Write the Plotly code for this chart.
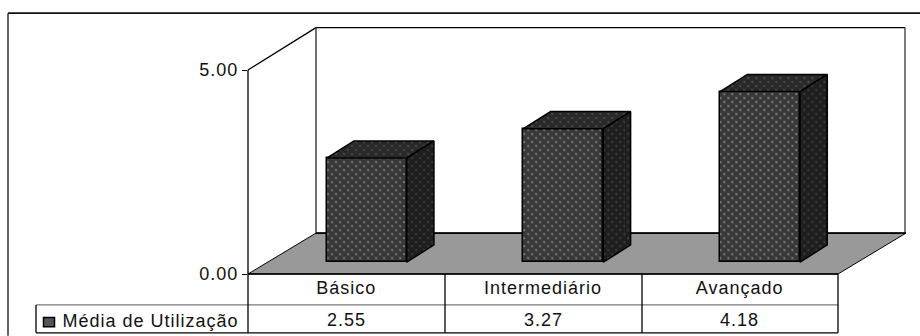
import plotly.graph_objects as go

# Chart data
categories = ["Básico", "Intermediário", "Avançado"]
series_name = "Média de Utilização"
values = [2.55, 3.27, 4.18]
value_ticks = [0, 5]

# Page geometry in pixels
W, H = 920, 336
PLOT_L, PLOT_R, PLOT_T, PLOT_B = 248, 838, 69.5, 274
DEPTH_X, DEPTH_Y = 68, 41  # oblique offset of the full floor depth
BAR_FRONT, BAR_BACK = 0.30, 0.70  # bar faces, as fractions of the depth
BAR_WIDTH = 80 / 196.67
UNIT_X = (PLOT_R - PLOT_L) / 3
UNIT_Y = (PLOT_B - PLOT_T) / 5
BASE = 0.29 * DEPTH_Y / UNIT_Y  # bars stand on the floor, set back from the front edge
TOP_DEPTH = 0.42 * DEPTH_Y / UNIT_Y
EDGE = 1.5
WALL = 1.3


def px(x):
    return (x - PLOT_L) / (PLOT_R - PLOT_L)


def py(y):
    return (PLOT_B - y) / (PLOT_B - PLOT_T)


def face_trace(corners, bg, fg):
    xs, ys = zip(*corners)
    return go.Scatter(
        x=list(xs) + [xs[0]], y=list(ys) + [ys[0]], mode="lines", fill="toself",
        fillcolor=bg, line=dict(color="#000000", width=EDGE),
        fillpattern=dict(shape=".", bgcolor=bg, fgcolor=fg, size=5.66, solidity=0.15),
        hoverinfo="skip", showlegend=False,
    )


def line(x0, y0, x1, y1, color="#000000", width=WALL):
    return dict(type="line", xref="paper", yref="paper", layer="below",
                x0=px(x0), y0=py(y0), x1=px(x1), y1=py(y1),
                line=dict(color=color, width=width))


fig = go.Figure()

# Front faces
front_shift = BAR_FRONT * DEPTH_X / UNIT_X
fig.add_trace(go.Bar(
    x=list(range(len(values))), y=values, base=BASE,
    width=BAR_WIDTH, offset=-BAR_WIDTH / 2 + front_shift,
    name=series_name, showlegend=False, hoverinfo="skip",
    marker=dict(color="#383838", line=dict(color="#000000", width=EDGE),
                pattern=dict(shape=".", bgcolor="#383838", fgcolor="#b4b4b4",
                             size=5.66, solidity=0.15)),
))

# Top and side faces, offset along the depth direction
back_dx = (BAR_BACK - BAR_FRONT) * DEPTH_X / UNIT_X
for i, v in enumerate(values):
    left = i - BAR_WIDTH / 2 + front_shift
    right = left + BAR_WIDTH
    top = BASE + v
    fig.add_trace(face_trace([
        (left, top), (left + back_dx, top + TOP_DEPTH),
        (right + back_dx, top + TOP_DEPTH), (right, top),
    ], "#292929", "#707070"))
    fig.add_trace(face_trace([
        (right, top), (right + back_dx, top + TOP_DEPTH),
        (right + back_dx, BASE + TOP_DEPTH), (right, BASE),
    ], "#1e1e1e", "#585858"))

shapes = [
    # Floor
    dict(type="path", xref="paper", yref="paper", layer="below",
         path=(f"M {px(PLOT_L)} {py(PLOT_B)} L {px(PLOT_L + DEPTH_X)} {py(PLOT_B - DEPTH_Y)} "
               f"L {px(PLOT_R + DEPTH_X)} {py(PLOT_B - DEPTH_Y)} L {px(PLOT_R)} {py(PLOT_B)} Z"),
         fillcolor="#999999", line=dict(color="#000000", width=1)),
    # Walls
    line(PLOT_L, PLOT_T, PLOT_L, PLOT_B),
    line(PLOT_L, PLOT_T, PLOT_L + DEPTH_X, 27),
    line(PLOT_L + DEPTH_X, 27, PLOT_R + DEPTH_X - 1, 27),
    line(PLOT_L + DEPTH_X, 27, PLOT_L + DEPTH_X, PLOT_B - DEPTH_Y, "#333333", 1.4),
    line(PLOT_R + DEPTH_X - 1, 27, PLOT_R + DEPTH_X - 1, PLOT_B - DEPTH_Y, "#444444", 1.4),
    line(PLOT_L + DEPTH_X, PLOT_B - DEPTH_Y, PLOT_R + DEPTH_X, PLOT_B - DEPTH_Y, "#000000", 1.6),
    line(PLOT_L, PLOT_B, PLOT_R, PLOT_B, "#000000", 1.6),
    # Outer frame
    line(8, 12.5, W, 12.5, "#111111", 1.6),
    line(8, 12.5, 8, H, "#222222", 1.4),
    # Data table
    line(36, 305, PLOT_R, 305, "#777777", 1.4),
    line(36, 333, PLOT_R, 333),
    line(36, 305, 36, 333),
    line(PLOT_L, PLOT_B, PLOT_L, 333),
    line(445, PLOT_B, 445, 333),
    line(642, PLOT_B, 642, 333),
    line(PLOT_R, PLOT_B, PLOT_R, 333),
    # Legend key
    dict(type="rect", xref="paper", yref="paper", layer="below",
         x0=px(43.5), x1=px(54.5), y0=py(327), y1=py(317.5),
         fillcolor="#555555", line=dict(color="#000000", width=1.5)),
]

annotations = [
    dict(xref="paper", yref="paper", x=px(150.5), y=py(321), text=series_name,
         showarrow=False, xanchor="center", yanchor="middle"),
]
for i, v in enumerate(values):
    annotations.append(dict(xref="x", yref="paper", x=i, y=py(320), text=f"{v:.2f}",
                            showarrow=False, xanchor="center", yanchor="middle"))

FONT = dict(family="Liberation Sans, Arial, sans-serif", size=18, color="#111111")

fig.update_layout(
    width=W, height=H, autosize=False,
    margin=dict(l=PLOT_L, r=W - PLOT_R, t=PLOT_T, b=H - PLOT_B, pad=0),
    paper_bgcolor="#ffffff", plot_bgcolor="rgba(0,0,0,0)",
    font=FONT, showlegend=False, shapes=shapes, annotations=annotations, bargap=0,
    xaxis=dict(range=[-0.5, 2.5], tickmode="array", tickvals=list(range(len(categories))),
               ticktext=categories, ticks="", showgrid=False, zeroline=False,
               showline=False, fixedrange=True, ticklabelstandoff=1),
    yaxis=dict(range=[0, 5], tickmode="array", tickvals=value_ticks, tickformat=".2f",
               ticks="outside", ticklen=5, tickcolor="#000000", tickwidth=1,
               showgrid=False, zeroline=False, showline=False, fixedrange=True),
)

# Wider label spacing, and a diagonal lattice for the dotted bar texture
finish = ("document.querySelectorAll('svg text').forEach("
          "t => t.style.letterSpacing = '1px');"
          "document.querySelectorAll('svg pattern').forEach("
          "p => p.setAttribute('patternTransform', 'rotate(45)'));")
fig.write_html("out.html", config=dict(displayModeBar=False), post_script=finish)
